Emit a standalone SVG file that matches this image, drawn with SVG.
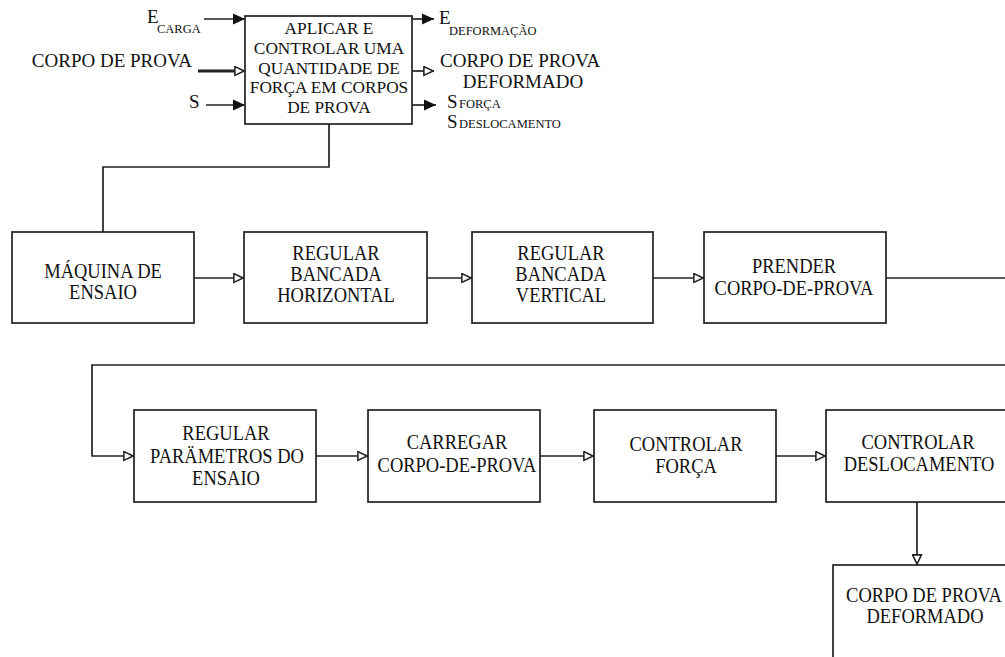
<svg xmlns="http://www.w3.org/2000/svg" width="1005" height="657" viewBox="0 0 1005 657" font-family="Liberation Serif, Times New Roman, serif">
<defs>
<style>
.b{fill:#fff;stroke:#222;stroke-width:1.7}
text{fill:#111}
.t{font-size:18.5px;text-anchor:middle}
.h{font-size:17.3px;text-anchor:middle}
.l{font-size:19px}
.s{font-size:12.5px}
.c{fill:none;stroke:#222;stroke-width:1.7}
.k{stroke-width:2.8}
</style>
<marker id="o" viewBox="0 0 10 10" refX="10" refY="5" markerWidth="11" markerHeight="11" markerUnits="userSpaceOnUse" orient="auto">
<path d="M0.8,1 L9.2,5 L0.8,9 Z" fill="#fff" stroke="#222" stroke-width="1.4"/>
</marker>
<marker id="f" viewBox="0 0 10 10" refX="10" refY="5" markerWidth="12" markerHeight="12" markerUnits="userSpaceOnUse" orient="auto">
<path d="M0,0.5 L10,5 L0,9.5 Z" fill="#111"/>
</marker>
</defs>
<rect width="1005" height="657" fill="#fff"/>

<g id="connectors">
<line class="c" x1="204" y1="19" x2="245" y2="19" marker-end="url(#f)"/>
<line class="c k" x1="198" y1="71" x2="236" y2="71"/>
<line class="c" x1="234" y1="71" x2="245" y2="71" marker-end="url(#o)"/>
<line class="c" x1="206" y1="105" x2="245" y2="105" marker-end="url(#f)"/>
<line class="c" x1="412" y1="19" x2="434" y2="19" marker-end="url(#f)"/>
<line class="c" x1="412" y1="71" x2="434" y2="71" marker-end="url(#o)"/>
<line class="c" x1="412" y1="105" x2="436" y2="105" marker-end="url(#f)"/>
<polyline class="c" points="329,124 329,167 103,167 103,232"/>
<line class="c" x1="194" y1="278" x2="244" y2="278" marker-end="url(#o)"/>
<line class="c" x1="427" y1="278" x2="472" y2="278" marker-end="url(#o)"/>
<line class="c" x1="653" y1="278" x2="704" y2="278" marker-end="url(#o)"/>
<line class="c" x1="886" y1="278" x2="1010" y2="278"/>
<polyline class="c" points="1010,365 92,365 92,456 134,456" marker-end="url(#o)"/>
<line class="c" x1="316" y1="456" x2="368" y2="456" marker-end="url(#o)"/>
<line class="c" x1="540" y1="456" x2="594" y2="456" marker-end="url(#o)"/>
<line class="c" x1="776" y1="456" x2="826" y2="456" marker-end="url(#o)"/>
<line class="c" x1="917" y1="502" x2="917" y2="565" marker-end="url(#o)"/>
</g>

<g id="labels">
<text class="l" x="147" y="23">E</text>
<text class="s" x="157" y="33">CARGA</text>
<text class="l" x="192" y="67" style="text-anchor:end">CORPO DE PROVA</text>
<text class="l" x="189" y="108">S</text>
<text class="l" x="439" y="24">E</text>
<text class="s" x="449" y="35">DEFORMAÇÃO</text>
<text class="l" x="440" y="67">CORPO DE PROVA</text>
<text class="l" x="523" y="88" style="text-anchor:middle">DEFORMADO</text>
<text class="l" x="447" y="108">S</text>
<text class="s" x="459" y="108">FORÇA</text>
<text class="l" x="447" y="128">S</text>
<text class="s" x="459" y="128">DESLOCAMENTO</text>
</g>

<g id="n0">
<rect class="b" x="245" y="16" width="167" height="108"/>
<text class="h" x="329" y="34">APLICAR E</text>
<text class="h" x="329" y="54">CONTROLAR UMA</text>
<text class="h" x="329" y="74">QUANTIDADE DE</text>
<text class="h" x="329" y="93">FORÇA EM CORPOS</text>
<text class="h" x="329" y="113">DE PROVA</text>
</g>

<g id="n1">
<rect class="b" x="12" y="232" width="182" height="91"/>
<text class="t" transform="translate(103,278) scale(1,1.12)">MÁQUINA DE</text>
<text class="t" transform="translate(103,299) scale(1,1.12)">ENSAIO</text>
</g>
<g id="n2">
<rect class="b" x="244" y="232" width="183" height="91"/>
<text class="t" transform="translate(336,260) scale(1,1.12)">REGULAR</text>
<text class="t" transform="translate(336,281) scale(1,1.12)">BANCADA</text>
<text class="t" transform="translate(336,302) scale(1,1.12)">HORIZONTAL</text>
</g>
<g id="n3">
<rect class="b" x="472" y="232" width="181" height="91"/>
<text class="t" transform="translate(561,260) scale(1,1.12)">REGULAR</text>
<text class="t" transform="translate(561,281) scale(1,1.12)">BANCADA</text>
<text class="t" transform="translate(561,302) scale(1,1.12)">VERTICAL</text>
</g>
<g id="n4">
<rect class="b" x="704" y="232" width="182" height="91"/>
<text class="t" transform="translate(794,273) scale(1,1.12)">PRENDER</text>
<text class="t" transform="translate(794,295) scale(1,1.12)">CORPO-DE-PROVA</text>
</g>

<g id="n5">
<rect class="b" x="134" y="410" width="182" height="92"/>
<text class="t" transform="translate(226,440) scale(1,1.12)">REGULAR</text>
<text class="t" transform="translate(227,463) scale(1,1.12)">PARÄMETROS DO</text>
<text class="t" transform="translate(226,485) scale(1,1.12)">ENSAIO</text>
</g>
<g id="n6">
<rect class="b" x="368" y="410" width="172" height="92"/>
<text class="t" transform="translate(457,449) scale(1,1.12)">CARREGAR</text>
<text class="t" transform="translate(457,472) scale(1,1.12)">CORPO-DE-PROVA</text>
</g>
<g id="n7">
<rect class="b" x="594" y="410" width="182" height="92"/>
<text class="t" transform="translate(686,451) scale(1,1.12)">CONTROLAR</text>
<text class="t" transform="translate(686,473) scale(1,1.12)">FORÇA</text>
</g>
<g id="n8">
<rect class="b" x="826" y="410" width="190" height="92"/>
<text class="t" transform="translate(918,449) scale(1,1.12)">CONTROLAR</text>
<text class="t" transform="translate(919,471) scale(1,1.12)">DESLOCAMENTO</text>
</g>
<g id="n9">
<rect class="b" x="833" y="565" width="190" height="100"/>
<text class="t" transform="translate(924,602) scale(1,1.12)">CORPO DE PROVA</text>
<text class="t" transform="translate(925,623) scale(1,1.12)">DEFORMADO</text>
</g>
</svg>
